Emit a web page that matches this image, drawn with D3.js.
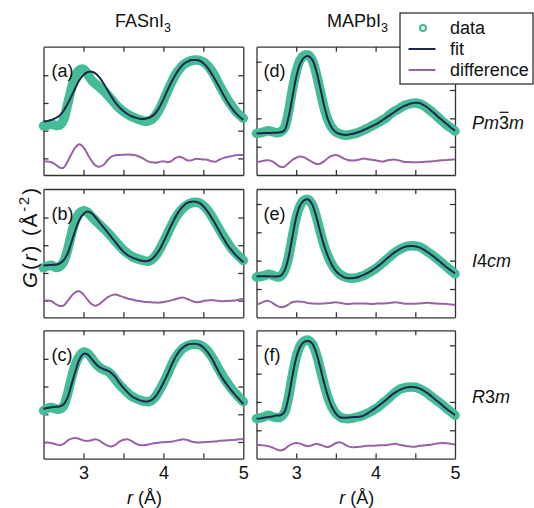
<!DOCTYPE html>
<html><head><meta charset="utf-8">
<script src="https://cdn.jsdelivr.net/npm/d3@7"></script>
<style>
body{margin:0;background:#fff}
svg{display:block}
text{font-family:"Liberation Sans",Arial,Helvetica,sans-serif;fill:#111}
</style>
</head><body>
<svg id="chart" width="534" height="508"></svg>
<script>
// ---------- data ----------
const r = [2.5,2.55,2.6,2.65,2.7,2.75,2.8,2.85,2.9,2.95,3.0,3.05,3.1,3.15,3.2,3.25,3.3,3.35,3.4,3.45,3.5,3.55,3.6,3.65,3.7,3.75,3.8,3.85,3.9,3.95,4.0,4.05,4.1,4.15,4.2,4.25,4.3,4.35,4.4,4.45,4.5,4.55,4.6,4.65,4.7,4.75,4.8,4.85,4.9,4.95,5.0];

const columnTitles = ["FASnI", "MAPbI"];
const phaseLabels = ["Pm3m", "I4cm", "R3m"];
const panelLetters = ["(a)","(b)","(c)","(d)","(e)","(f)"];
const xTicks = [3, 3.5, 4, 4.5];
const xTickLabels = [3, 4, 5];
const yTicks = [0, 1, 2, 3];
const legendLabels = ["data", "fit", "difference"];

const dataA = [1.17,1.20,1.24,1.19,1.20,1.39,1.93,2.53,2.98,3.19,3.22,3.05,2.83,2.69,2.57,2.45,2.29,2.13,1.96,1.81,1.69,1.59,1.51,1.45,1.39,1.35,1.34,1.39,1.54,1.77,2.08,2.41,2.73,3.01,3.22,3.37,3.47,3.53,3.55,3.54,3.48,3.36,3.17,2.93,2.65,2.39,2.13,1.92,1.72,1.57,1.45];
const fitA  = [1.33,1.35,1.39,1.45,1.54,1.71,1.96,2.25,2.55,2.83,3.01,3.11,3.13,3.07,2.92,2.71,2.47,2.23,2.01,1.84,1.71,1.60,1.52,1.47,1.43,1.42,1.45,1.51,1.63,1.84,2.13,2.45,2.75,3.01,3.23,3.40,3.49,3.55,3.55,3.53,3.43,3.28,3.07,2.83,2.57,2.30,2.05,1.83,1.65,1.51,1.39];
const diffA = [-0.10,-0.11,-0.14,-0.22,-0.33,-0.34,-0.12,0.16,0.40,0.51,0.40,0.16,-0.08,-0.25,-0.30,-0.24,-0.07,0.06,0.11,0.12,0.13,0.14,0.13,0.11,0.06,-0.01,-0.10,-0.14,-0.16,-0.13,-0.10,-0.14,-0.10,0.01,0.06,0.01,-0.07,-0.07,-0.02,-0.02,-0.04,-0.05,-0.10,-0.12,-0.05,0.01,0.05,0.08,0.11,0.12,0.12];

const dataB = [1.18,1.25,1.28,1.20,1.23,1.39,1.81,2.41,2.89,3.16,3.25,3.19,3.04,2.89,2.75,2.61,2.47,2.31,2.14,1.98,1.83,1.71,1.61,1.54,1.49,1.45,1.42,1.47,1.61,1.83,2.11,2.41,2.71,2.98,3.19,3.35,3.46,3.53,3.55,3.53,3.43,3.28,3.07,2.83,2.57,2.33,2.11,1.90,1.73,1.59,1.45];
const fitB  = [1.27,1.28,1.29,1.30,1.34,1.45,1.69,2.11,2.55,2.92,3.13,3.22,3.16,3.01,2.83,2.65,2.47,2.29,2.11,1.93,1.77,1.65,1.57,1.51,1.46,1.43,1.43,1.49,1.63,1.83,2.11,2.41,2.73,3.01,3.25,3.42,3.53,3.57,3.57,3.53,3.41,3.23,3.01,2.77,2.51,2.25,2.02,1.83,1.66,1.52,1.39];
const diffB = [0,0.01,-0.02,-0.12,-0.19,-0.18,-0.02,0.17,0.31,0.34,0.22,0.04,-0.12,-0.18,-0.12,0,0.12,0.19,0.22,0.18,0.13,0.08,0.05,0.01,-0.01,-0.04,-0.05,-0.06,-0.07,-0.07,-0.05,-0.02,0.01,0.05,0.10,0.11,0.06,0,-0.05,-0.05,-0.01,0.01,0.02,0.01,-0.01,-0.02,-0.01,0,0.01,0.04,0.06];

const dataC = [1.13,1.22,1.24,1.20,1.18,1.29,1.72,2.31,2.80,3.10,3.24,3.20,3.04,2.84,2.70,2.61,2.55,2.43,2.25,2.07,1.92,1.78,1.66,1.58,1.52,1.47,1.45,1.49,1.63,1.86,2.13,2.43,2.76,3.04,3.24,3.39,3.47,3.52,3.53,3.51,3.43,3.30,3.10,2.86,2.59,2.35,2.13,1.93,1.76,1.60,1.45];
const fitC  = [1.20,1.23,1.25,1.27,1.28,1.35,1.59,2.07,2.55,2.98,3.18,3.16,3.01,2.83,2.70,2.63,2.58,2.49,2.34,2.13,1.95,1.80,1.66,1.57,1.51,1.47,1.46,1.51,1.64,1.86,2.13,2.43,2.76,3.06,3.28,3.42,3.51,3.54,3.54,3.51,3.41,3.25,3.04,2.77,2.49,2.25,2.05,1.86,1.69,1.53,1.37];
const diffC = [-0.05,-0.02,-0.04,-0.08,-0.12,-0.07,0.05,0.12,0.14,0.11,0.05,0.04,0.06,0.10,0.05,-0.05,-0.13,-0.16,-0.10,0.01,0.08,0.10,0.04,-0.05,-0.11,-0.12,-0.10,-0.06,-0.04,-0.02,-0.01,0,0.01,0.04,0.07,0.10,0.07,0.02,-0.01,-0.02,-0.01,0,0.01,0.02,0.04,0.05,0.06,0.07,0.08,0.10,0.11];

const dataD = [0.47,0.49,0.53,0.56,0.53,0.49,0.52,0.65,1.18,1.98,2.65,3.06,3.22,3.24,3.06,2.61,2.00,1.39,0.94,0.67,0.52,0.45,0.41,0.41,0.44,0.47,0.52,0.59,0.65,0.73,0.80,0.88,0.96,1.06,1.18,1.27,1.35,1.44,1.49,1.53,1.54,1.52,1.46,1.36,1.25,1.13,1.00,0.88,0.76,0.66,0.55];
const fitD  = [0.47,0.47,0.48,0.48,0.49,0.49,0.51,0.56,1.00,1.71,2.45,2.94,3.15,3.20,3.08,2.71,2.12,1.47,0.96,0.66,0.51,0.45,0.42,0.42,0.45,0.48,0.53,0.59,0.65,0.72,0.79,0.87,0.96,1.06,1.15,1.25,1.34,1.42,1.48,1.53,1.55,1.54,1.48,1.39,1.27,1.15,1.02,0.91,0.79,0.67,0.56];
const diffD = [-0.53,-0.52,-0.49,-0.48,-0.52,-0.62,-0.71,-0.71,-0.59,-0.47,-0.39,-0.35,-0.38,-0.46,-0.54,-0.60,-0.60,-0.52,-0.40,-0.32,-0.29,-0.34,-0.42,-0.47,-0.49,-0.48,-0.45,-0.42,-0.44,-0.46,-0.48,-0.51,-0.52,-0.48,-0.46,-0.46,-0.49,-0.53,-0.54,-0.55,-0.55,-0.55,-0.54,-0.53,-0.52,-0.51,-0.49,-0.48,-0.47,-0.46,-0.45];

const dataE = [0.42,0.44,0.47,0.52,0.49,0.43,0.44,0.63,1.08,1.81,2.52,2.95,3.13,3.16,2.99,2.58,2.05,1.55,1.16,0.87,0.66,0.52,0.44,0.39,0.38,0.39,0.43,0.47,0.55,0.63,0.72,0.83,0.95,1.07,1.19,1.30,1.39,1.46,1.51,1.53,1.52,1.49,1.42,1.32,1.23,1.12,1.01,0.89,0.77,0.65,0.53];
const fitE  = [0.45,0.45,0.45,0.45,0.44,0.44,0.46,0.63,1.08,1.81,2.52,2.96,3.13,3.16,2.99,2.58,2.05,1.55,1.15,0.85,0.63,0.50,0.42,0.38,0.38,0.40,0.44,0.50,0.57,0.65,0.75,0.85,0.97,1.09,1.21,1.31,1.40,1.47,1.51,1.52,1.51,1.47,1.40,1.31,1.21,1.10,0.99,0.87,0.75,0.65,0.55];
const diffE = [-0.56,-0.50,-0.44,-0.42,-0.49,-0.58,-0.64,-0.63,-0.55,-0.47,-0.44,-0.45,-0.46,-0.50,-0.51,-0.52,-0.52,-0.51,-0.50,-0.49,-0.47,-0.49,-0.51,-0.53,-0.52,-0.51,-0.51,-0.51,-0.52,-0.53,-0.52,-0.51,-0.51,-0.50,-0.49,-0.47,-0.49,-0.51,-0.52,-0.52,-0.52,-0.51,-0.50,-0.49,-0.50,-0.51,-0.52,-0.52,-0.53,-0.55,-0.56];

const dataF = [0.41,0.44,0.48,0.53,0.48,0.45,0.46,0.61,1.12,1.91,2.58,2.98,3.15,3.18,3.06,2.73,2.20,1.64,1.16,0.81,0.60,0.48,0.42,0.41,0.42,0.46,0.49,0.54,0.60,0.68,0.76,0.86,0.98,1.09,1.22,1.34,1.44,1.49,1.52,1.53,1.52,1.47,1.40,1.31,1.20,1.09,0.99,0.88,0.76,0.65,0.53];
const fitF  = [0.41,0.42,0.45,0.47,0.49,0.52,0.53,0.64,1.12,1.88,2.55,2.95,3.12,3.15,3.07,2.76,2.26,1.69,1.20,0.82,0.59,0.46,0.44,0.45,0.46,0.47,0.48,0.52,0.60,0.69,0.79,0.89,1.00,1.12,1.24,1.34,1.42,1.48,1.52,1.53,1.52,1.48,1.41,1.32,1.21,1.09,0.98,0.86,0.74,0.64,0.54];
const diffF = [-0.51,-0.52,-0.54,-0.56,-0.61,-0.67,-0.71,-0.67,-0.56,-0.48,-0.45,-0.47,-0.53,-0.56,-0.53,-0.48,-0.51,-0.56,-0.59,-0.53,-0.45,-0.42,-0.48,-0.56,-0.60,-0.59,-0.58,-0.56,-0.55,-0.55,-0.54,-0.53,-0.53,-0.52,-0.49,-0.48,-0.51,-0.54,-0.56,-0.58,-0.58,-0.55,-0.54,-0.52,-0.51,-0.48,-0.46,-0.45,-0.46,-0.48,-0.51];

// ---------- layout / style ----------
const C_DATA = "#46bb97", C_FIT = "#1b2847", C_DIFF = "#9a62a6", C_FRAME = "#333";
const FS = 18;
const colX = [[43.5, 243.3], [256.5, 455]];
const rowTop = [46.7, 189, 330.3];
const panelH = 128.3;
const yDomains = [[-0.6, 4.03], [-1.0, 3.53]];

const panels = [
  {col:0,row:0,data:dataA,fit:fitA,diff:diffA},
  {col:0,row:1,data:dataB,fit:fitB,diff:diffB},
  {col:0,row:2,data:dataC,fit:fitC,diff:diffC},
  {col:1,row:0,data:dataD,fit:fitD,diff:diffD},
  {col:1,row:1,data:dataE,fit:fitE,diff:diffE},
  {col:1,row:2,data:dataF,fit:fitF,diff:diffF}
];

const svg = d3.select("#chart");

panels.forEach((p, k) => {
  const x = d3.scaleLinear().domain([2.5, 5]).range(colX[p.col]);
  const y0 = rowTop[p.row], y1 = y0 + panelH;
  const y = d3.scaleLinear().domain(yDomains[p.col]).range([y1, y0]);
  const g = svg.append("g");

  const styleAxis = sel => {
    sel.select(".domain").attr("stroke", C_FRAME).attr("stroke-width", 1.3);
    sel.selectAll(".tick line").attr("stroke", C_FRAME).attr("stroke-width", 1.3);
    sel.selectAll(".tick text").remove();
  };
  g.append("g").attr("transform", `translate(0,${y1})`)
    .call(d3.axisBottom(x).tickValues(xTicks).tickSize(-5).tickSizeOuter(0).tickFormat("")).call(styleAxis);
  g.append("g").attr("transform", `translate(0,${y0})`)
    .call(d3.axisTop(x).tickValues(xTicks).tickSize(-5).tickSizeOuter(0).tickFormat("")).call(styleAxis);
  g.append("g").attr("transform", `translate(${colX[p.col][0]},0)`)
    .call(d3.axisLeft(y).tickValues(yTicks).tickSize(-5).tickSizeOuter(0).tickFormat("")).call(styleAxis);
  g.append("g").attr("transform", `translate(${colX[p.col][1]},0)`)
    .call(d3.axisRight(y).tickValues(yTicks).tickSize(-5).tickSizeOuter(0).tickFormat("")).call(styleAxis);

  if (p.row === 2) {
    const ax = g.append("g").attr("transform", `translate(0,${y1})`)
      .call(d3.axisBottom(x).tickValues(xTickLabels).tickSize(0).tickPadding(8).tickFormat(d3.format("d")));
    ax.select(".domain").remove();
    ax.selectAll("text").attr("font-size", FS).attr("font-family", "Liberation Sans, Arial, sans-serif").attr("fill", "#111");
    const xl = g.append("text").attr("x", (colX[p.col][0] + colX[p.col][1]) / 2 + 1).attr("y", 503.5)
      .attr("text-anchor", "middle").attr("font-size", FS);
    xl.append("tspan").attr("font-style", "italic").text("r");
    xl.append("tspan").text(" (Å)");
  }

  const line = arr => d3.line().x((d, i) => x(r[i])).y(d => y(d)).curve(d3.curveCatmullRom.alpha(0.5))(arr);

  g.append("path").attr("d", line(p.data)).attr("fill", "none").attr("stroke", C_DATA)
    .attr("stroke-width", 9.5).attr("stroke-linecap", "round").attr("stroke-linejoin", "round");
  g.append("path").attr("d", line(p.fit)).attr("fill", "none").attr("stroke", C_FIT).attr("stroke-width", 2);
  g.append("path").attr("d", line(p.diff)).attr("fill", "none").attr("stroke", C_DIFF).attr("stroke-width", 2);

  g.append("text").attr("x", colX[p.col][0] + (p.col === 0 ? 8 : 7)).attr("y", y0 + 30.5)
    .attr("font-size", FS).text(panelLetters[k]);
});

// column titles
[143, 357.5].forEach((cx, i) => {
  const t = svg.append("text").attr("x", cx).attr("y", 26.5).attr("text-anchor", "middle").attr("font-size", FS);
  t.append("tspan").text(columnTitles[i]);
  t.append("tspan").attr("font-size", 12.5).attr("dy", 5).text("3");
});

// phase labels
const phaseY = [129.3, 266.7, 402.7];
const phaseParts = [
  [["P", true], ["m", true], ["3", false], ["m", true]],
  [["I", true], ["4", false], ["c", true], ["m", true]],
  [["R", true], ["3", false], ["m", true]]
];
phaseParts.forEach((parts, i) => {
  const t = svg.append("text").attr("x", 472).attr("y", phaseY[i]).attr("font-size", FS);
  parts.forEach(([s, it]) => t.append("tspan").attr("font-style", it ? "italic" : "normal").text(s));
  if (i === 0) {
    const node = t.node();
    const xs = node.getStartPositionOfChar(2).x, xe = node.getEndPositionOfChar(2).x;
    svg.append("line").attr("x1", xs + 0.5).attr("x2", xe - 0.5)
      .attr("y1", phaseY[i] - 17).attr("y2", phaseY[i] - 17)
      .attr("stroke", "#111").attr("stroke-width", 1.2);
  }
});

// y label
const yl = svg.append("text").attr("transform", "translate(37,238) rotate(-90)")
  .attr("text-anchor", "middle").attr("font-size", 20.5)
  .attr("textLength", 100).attr("lengthAdjust", "spacing");
yl.append("tspan").attr("font-style", "italic").text("G");
yl.append("tspan").text("(");
yl.append("tspan").attr("font-style", "italic").text("r");
yl.append("tspan").text(") (Å");
yl.append("tspan").attr("font-size", 14.5).attr("dy", -8.5).text("-2");
yl.append("tspan").attr("dy", 8.5).text(")");

// legend
const lg = svg.append("g");
lg.append("rect").attr("x", 400).attr("y", 13).attr("width", 133).attr("height", 71)
  .attr("fill", "#fff").attr("stroke", "#222").attr("stroke-width", 1.2);
const legY = [28, 49, 70];
lg.append("circle").attr("cx", 423).attr("cy", legY[0]).attr("r", 3)
  .attr("fill", "#fff").attr("stroke", C_DATA).attr("stroke-width", 2.2);
lg.append("line").attr("x1", 408.5).attr("x2", 435.5).attr("y1", legY[1]).attr("y2", legY[1])
  .attr("stroke", C_FIT).attr("stroke-width", 2);
lg.append("line").attr("x1", 408.5).attr("x2", 435.5).attr("y1", legY[2]).attr("y2", legY[2])
  .attr("stroke", C_DIFF).attr("stroke-width", 2);
legendLabels.forEach((s, i) => {
  lg.append("text").attr("x", 450).attr("y", legY[i] + 6.3).attr("font-size", FS).text(s);
});
</script>
</body></html>
